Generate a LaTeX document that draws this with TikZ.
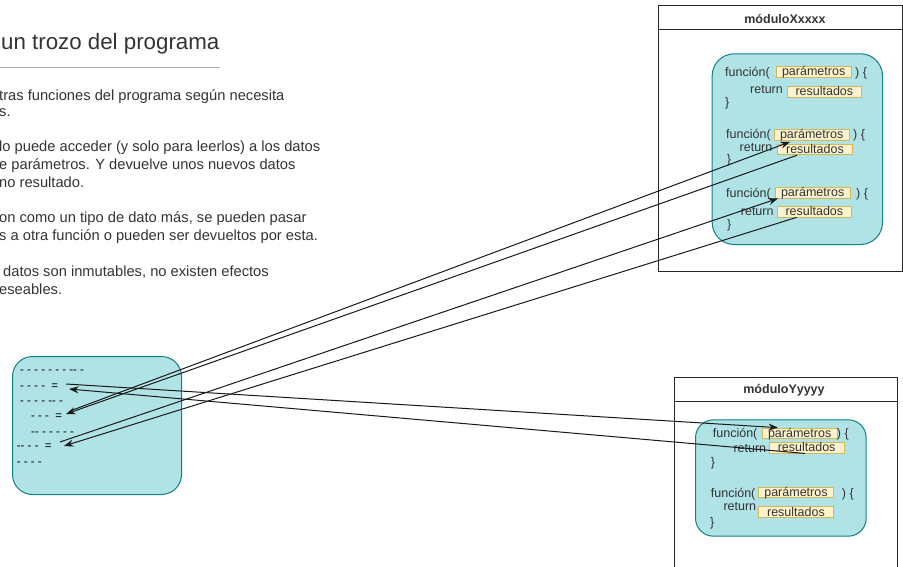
\documentclass[tikz,border=0pt]{standalone}
\usepackage{fontspec}
\setmainfont{Liberation Sans}
\usetikzlibrary{arrows.meta}

\definecolor{tealfill}{HTML}{B0E3E6}
\definecolor{tealline}{HTML}{0E8088}
\definecolor{notefill}{HTML}{FFF2CC}
\definecolor{noteline}{HTML}{D6B656}
\definecolor{texto}{HTML}{333333}

\tikzset{
  bloque/.style={draw=tealline, fill=tealfill, line width=1pt, anchor=north west},
  modulo/.style={draw=black!85, fill=white, line width=1pt, anchor=north west},
  dato/.style={draw=noteline, fill=notefill, line width=0.8pt, inner sep=0pt, anchor=west,
    minimum width=74.5pt, minimum height=10.5pt, text height=9pt, text depth=1pt,
    text=texto, font=\fontsize{12.5}{14}\selectfont},
  codigo/.style={anchor=base west, inner sep=0pt, text=texto, font=\fontsize{12.5}{14}\selectfont},
  parrafo/.style={anchor=base west, inner sep=0pt, text=texto, font=\fontsize{14.7}{18}\selectfont},
  rayas/.style={anchor=base west, inner sep=0pt, text=black, font=\fontsize{11.5}{13}\selectfont},
  flecha/.style={-{Stealth[length=9.5pt,width=7pt]}, line width=1pt, draw=black!90},
}

\begin{document}
\begin{tikzpicture}[x=1pt,y=-1pt]
  \useasboundingbox (0,0) rectangle (903,567);
  \clip (0,0) rectangle (903,567);

  % text on the left, cut by the page edge
  \node[parrafo, font=\fontsize{22.3}{26}\selectfont] (titulo) at (1,50) {un trozo del programa};
  \draw[black!30, line width=1pt] (0,67.3) -- (220,67.3);
  \node[parrafo] (p1a) at (-1,100.7) {tras funciones del programa según necesita};
  \node[parrafo] (p1b) at (-1,116.7) {s.};
  \node[parrafo] (p2a) at (-1,151.7) {lo puede acceder (y solo para leerlos) a los datos};
  \node[parrafo] (p2b) at (-1,170) {e parámetros. Y devuelve unos nuevos datos};
  \node[parrafo] (p2c) at (-1,187.3) {no resultado.};
  \node[parrafo] (p3a) at (-1,222.3) {on como un tipo de dato más, se pueden pasar};
  \node[parrafo] (p3b) at (-1,240.7) {s a otra función o pueden ser devueltos por esta.};
  \node[parrafo] (p4a) at (3,276) {datos son inmutables, no existen efectos};
  \node[parrafo] (p4b) at (-1,294) {eseables.};

  % the piece of program
  \node[bloque, rounded corners=20pt, minimum width=169pt, minimum height=138pt] (trozo) at (12,356) {};
  \node[rayas] (l1) at (20,373.3) {- - - - - - - -{}- -};
  \node[rayas] (l2) at (20,389) {- - - - ~=};
  \node[rayas] (l3) at (20,404) {- - - - -{}- -};
  \node[rayas] (l4) at (31,419) {- - - ~=};
  \node[rayas] (l5) at (31,435) {-{}- - - - - -};
  \node[rayas] (l6) at (16.7,449) {-{}- - - ~=};
  \node[rayas] (l7) at (16.7,465) {- - - -};
  \coordinate (s2) at (66,384);
  \coordinate (e2) at (69,389);
  \coordinate (s4) at (70,411);
  \coordinate (e4) at (66,414);
  \coordinate (s6) at (60,442);
  \coordinate (e6) at (64,446);

  % moduloXxxxx
  \node[modulo, minimum width=244.5pt, minimum height=265.2pt] (modX) at (657.5,5.5) {};
  \draw[black!85, line width=1pt] (modX.west |- 0,30) -- (modX.east |- 0,30);
  \node[font=\bfseries\fontsize{12.5}{14}\selectfont, text=texto] (tituloX) at (785,18.5) {móduloXxxxx};
  \node[bloque, rounded corners=22pt, minimum width=170.3pt, minimum height=190.7pt] (funcX) at (711.7,53.3) {};

  \node[codigo] (fx1) at (725,76.5) {función(};
  \node[dato] (px1) at (776,71.7) {parámetros};
  \node[codigo] (cx1) at (855,76.5) {) \{};
  \node[codigo] (rtx1) at (750,93.3) {return};
  \node[dato] (rx1) at (786.7,92) {resultados};
  \node[codigo] (bx1) at (725,107) {\}};

  \node[codigo] (fx2) at (726,139) {función(};
  \node[dato] (px2) at (774,134.7) {parámetros};
  \node[codigo] (cx2) at (853,139) {) \{};
  \node[codigo] (rtx2) at (739.5,152) {return};
  \node[dato] (rx2) at (777.3,149.5) {resultados};
  \node[codigo] (bx2) at (726.7,164) {\}};

  \node[codigo] (fx3) at (726,197.5) {función(};
  \node[dato] (px3) at (775,192.8) {parámetros};
  \node[codigo] (cx3) at (856,197.5) {) \{};
  \node[codigo] (rtx3) at (740.7,215) {return};
  \node[dato] (rx3) at (776.7,211.7) {resultados};
  \node[codigo] (bx3) at (727,229) {\}};

  % moduloYyyyy
  \node[modulo, minimum width=223pt, minimum height=230pt] (modY) at (674,377.3) {};
  \draw[black!85, line width=1pt] (modY.west |- 0,401.7) -- (modY.east |- 0,401.7);
  \node[font=\bfseries\fontsize{12.5}{14}\selectfont, text=texto] (tituloY) at (784,390) {móduloYyyyy};
  \node[bloque, rounded corners=18pt, minimum width=170.7pt, minimum height=116.4pt] (funcY) at (695,419.3) {};

  \node[codigo] (fy1) at (712.7,437) {función(};
  \node[dato] (py1) at (762,433.3) {parámetros};
  \node[codigo] (cy1) at (836.7,437) {) \{};
  \node[codigo] (rty1) at (733.3,452) {return};
  \node[dato] (ry1) at (769,447.8) {resultados};
  \node[codigo] (by1) at (710.7,466) {\}};

  \node[codigo] (fy2) at (710.7,497) {función(};
  \node[dato] (py2) at (758.3,492.5) {parámetros};
  \node[codigo] (cy2) at (841.7,497) {) \{};
  \node[codigo] (rty2) at (723.3,510) {return};
  \node[dato] (ry2) at (758.3,512) {resultados};
  \node[codigo] (by2) at (710,526) {\}};

  % calls and returned values
  \draw[flecha] (s2) -- ([xshift=16pt]py1.north west);
  \draw[flecha] ([xshift=36pt]ry1.south west) -- (e2);
  \draw[flecha] (s4) -- ([xshift=16pt,yshift=-1.5pt]px2.south west);
  \draw[flecha] ([xshift=20pt]rx2.south west) -- (e4);
  \draw[flecha] (s6) -- ([xshift=3pt]px3.south west);
  \draw[flecha] ([xshift=20pt]rx3.south west) -- (e6);
\end{tikzpicture}
\end{document}
